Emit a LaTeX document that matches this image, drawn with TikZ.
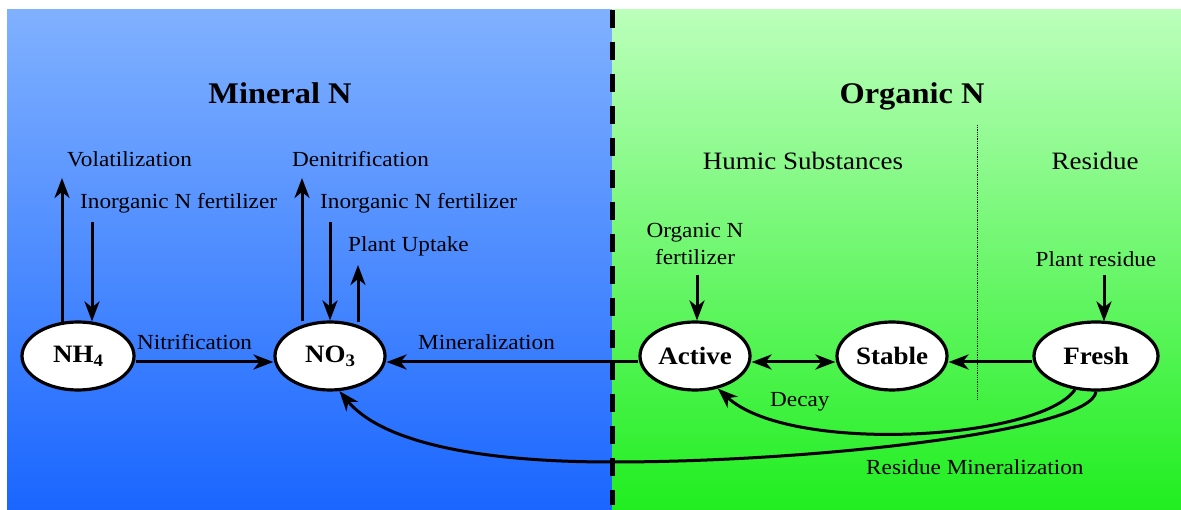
\documentclass[tikz,border=0pt]{standalone}
\usepackage{fontspec}
\setmainfont[FakeStretch=1.08]{Liberation Serif}
\usetikzlibrary{shapes.geometric,arrows.meta}
\definecolor{bluetop}{HTML}{80B1FF}
\definecolor{bluebot}{HTML}{1A66FF}
\definecolor{greentop}{HTML}{BBFFBB}
\definecolor{greenbot}{HTML}{20EE20}
\tikzset{
  pool/.style={ellipse, draw=black, fill=white, line width=3.2pt, inner sep=0pt,
    font=\fontsize{25}{28}\selectfont\bfseries},
  lbl/.style={inner sep=0pt, anchor=base west, font=\fontsize{21.5}{24}\selectfont},
  clbl/.style={inner sep=0pt, anchor=base, font=\fontsize{21.5}{27}\selectfont, align=center},
  title/.style={inner sep=0pt, anchor=base, font=\fontsize{30}{33}\selectfont\bfseries},
  subtitle/.style={inner sep=0pt, anchor=base, font=\fontsize{25}{28}\selectfont},
  arr/.style={line width=3pt, -{Stealth[length=20pt,width=15pt,inset=6pt]}},
  darr/.style={line width=3pt, {Stealth[length=20pt,width=15pt,inset=6pt]}-{Stealth[length=20pt,width=15pt,inset=6pt]}}
}
\begin{document}
\begin{tikzpicture}[x=1pt,y=-1pt]
\useasboundingbox (0,0) rectangle (1181,510);
% backgrounds
\shade[top color=bluetop, bottom color=bluebot] (7,10) rectangle (612,510);
\shade[top color=greentop, bottom color=greenbot] (612,10) rectangle (1181,510);
% titles
\node[title] (tmin) at (280,104) {Mineral N};
\node[title] (torg) at (912,104) {Organic N};
\node[subtitle] (thum) at (803,170) {Humic Substances};
\node[subtitle] (tres) at (1095,170) {Residue};
% pools
\node[pool, minimum width=112pt, minimum height=68pt] (NH4) at (78,356) {NH$_{\mathbf 4}$};
\node[pool, minimum width=110pt, minimum height=68pt] (NO3) at (330,356) {NO$_{\mathbf 3}$};
\node[pool, minimum width=110pt, minimum height=68pt] (Active) at (695,356) {Active};
\node[pool, minimum width=110pt, minimum height=68pt] (Stable) at (892,356) {Stable};
\node[pool, minimum width=124pt, minimum height=68pt] (Fresh) at (1096,356) {Fresh};
% labels
\node[lbl] (lvol) at (67,167) {Volatilization};
\node[lbl] (lfert1) at (80,209) {Inorganic N fertilizer};
\node[lbl] (lden) at (292,167) {Denitrification};
\node[lbl] (lfert2) at (320,209) {Inorganic N fertilizer};
\node[lbl] (lupt) at (348,252) {Plant Uptake};
\node[lbl] (lnit) at (137,350) {Nitrification};
\node[lbl] (lmin) at (418,350) {Mineralization};
\node[clbl] (lorgf) at (695,265) {Organic N\\fertilizer};
\node[clbl] (lpres) at (1096,267) {Plant residue};
\node[lbl] (ldec) at (770,407) {Decay};
\node[lbl] (lresm) at (866,475) {Residue Mineralization};
% coordinates for free ends
\coordinate (cvol) at (62,178);
\coordinate (cf1) at (92,222);
\coordinate (cden) at (302,178);
\coordinate (cf2) at (330,222);
\coordinate (cupt) at (358,265);
\coordinate (corg) at (697,275);
\coordinate (cres) at (1104,275);
\coordinate (cjoin) at (612,462);
% vertical arrows
\draw[arr] (cvol |- NH4.north) ++(0,2) -- (cvol);
\draw[arr] (cf1) -- ([yshift=-1pt]cf1 |- NH4.north);
\draw[arr] (cden |- NO3.north) ++(0,1) -- (cden);
\draw[arr] (cf2) -- (cf2 |- NO3.north);
\draw[arr] (cupt |- NO3.north) ++(0,2) -- (cupt);
\draw[arr] (corg) -- (corg |- Active.north);
\draw[arr] (cres) -- ([yshift=-1pt]cres |- Fresh.north);
% horizontal arrows
\draw[arr] ([yshift=-6pt]NH4.east) -- ([yshift=-6pt]NO3.west);
\draw[arr] ([yshift=-6pt]Active.west) -- ([yshift=-6pt]NO3.east);
\draw[darr] ([yshift=-6pt]Active.east) -- ([yshift=-6pt]Stable.west);
\draw[arr] ([yshift=-6pt]Fresh.west) -- ([yshift=-6pt]Stable.east);
% curves
\draw[arr] (Fresh.238) .. controls (1040,440) and (790,455) .. (Active.305);
\draw[line width=3pt] (Fresh.south) .. controls (1092,430) and (820,462) .. (cjoin);
\draw[arr] (cjoin) .. controls (470,462) and (380,440) .. (NO3.285);
% separators
\draw[line width=0.8pt, densely dotted] (977,125) -- (977,400);
\draw[line width=5pt, dash pattern=on 18pt off 14pt] (612,10) -- (612,505);
\end{tikzpicture}
\end{document}
